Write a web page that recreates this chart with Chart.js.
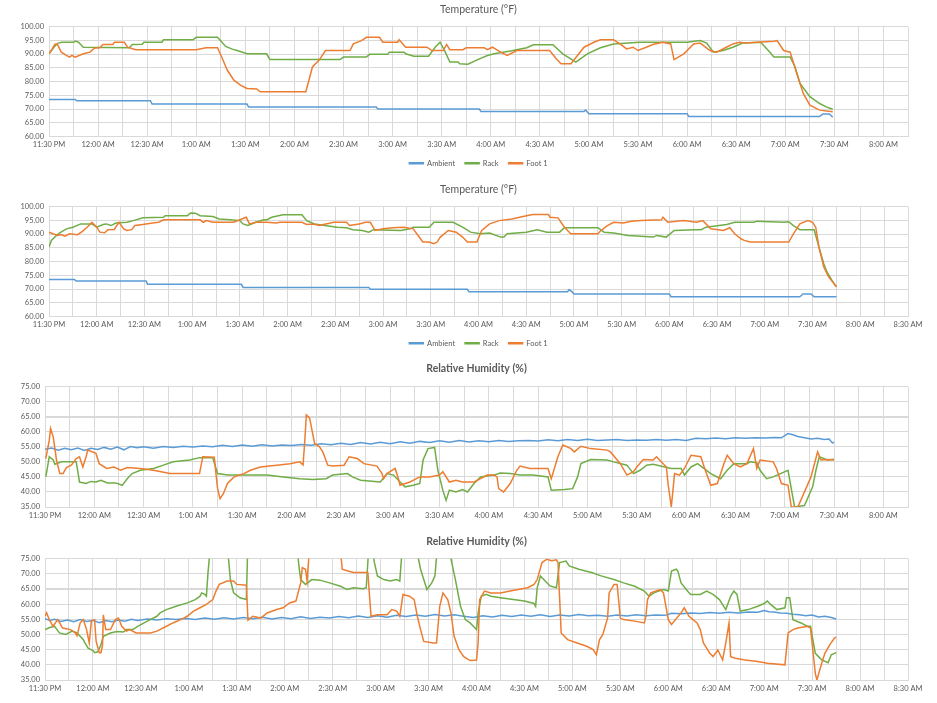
<!DOCTYPE html>
<html>
<head>
<meta charset="utf-8">
<script src="https://cdn.jsdelivr.net/npm/chart.js@4.4.1/dist/chart.umd.min.js"></script>
<style>
  body { margin: 0; background: #fff; width: 937px; height: 703px; overflow: hidden; position: relative; }
  canvas { position: absolute; left: 0; }
</style>
</head>
<body>
<canvas id="tempChart1" width="937" height="180" style="top:0px"></canvas>
<canvas id="tempChart2" width="937" height="180" style="top:180px"></canvas>
<canvas id="humChart1" width="937" height="170" style="top:360px"></canvas>
<canvas id="humChart2" width="937" height="173" style="top:530px"></canvas>
<script>
// x = minutes after 11:30 PM, y = reading
const seriesNames = ["Ambient", "Rack", "Foot 1"];
const seriesColors = ["#5B9BD5", "#70AD47", "#ED7D31"];

const t1Ambient = [[0,73.5],[16,73.5],[17,73.0],[62,73.0],[63,71.8],[121,71.8],[122,70.7],[200,70.7],[201,70.0],[263,70.0],[264,69.1],[327,69.1],[328,69.6],[329,68.9],[330,68.3],[390,68.3],[391,67.3],[471,67.3],[473,68.2],[477,68.2],[479,67.0]];
const t1Rack = [[0,90.1],[3,92.5],[5.5,94],[8,94.3],[15,94.3],[16,94.7],[18,94.3],[21,92.5],[49,92.3],[51,93.5],[57,93.6],[58,94.3],[69,94.3],[70,95.2],[88,95.2],[90,96.1],[103,96.1],[108,92.8],[112,91.8],[115,91.3],[121,90.1],[133,90.1],[135,88.0],[178,88.0],[180,88.9],[194,88.9],[196,89.9],[207,89.9],[208,90.7],[217,90.7],[218,90.1],[223,89.2],[232,89.2],[236,92.5],[239,94.3],[242,91],[245,87.1],[250,87.1],[251,86.5],[256,86.3],[262,88],[268,89.5],[272,90.1],[282,91.1],[292,92.3],[296,93.4],[308,93.4],[314,90.1],[322,87.1],[329,90.1],[337,92.3],[345,93.7],[361,94.3],[390,94.3],[398,94.9],[402,94],[406,90.7],[412,91.3],[418,92.5],[424,94],[435,94.3],[441,90.4],[443,88.9],[453,88.9],[456,85.3],[459,79.3],[465,74.5],[471,72],[475,70.8],[479,69.9]];
const t1Foot = [[0,90.1],[2,92],[3.5,93.5],[5,93.7],[7.5,90.7],[10.6,89.5],[12.6,88.9],[14,89.5],[16,88.9],[21,90.1],[25,90.7],[28,92.2],[31,92.3],[33,93.5],[39,93.5],[40,94.3],[46,94.3],[48,92.5],[53,91.6],[90,91.6],[96,92.3],[103,92.3],[106,88.3],[109,84.1],[113,80.5],[117,78.7],[121,77.5],[127,77.3],[129,76.3],[157,76.3],[161,85.3],[165,87.7],[169,91.3],[184,91.3],[186,93.7],[191,94.9],[194,96.1],[202,96.1],[204,94.3],[213,94.3],[214,95.2],[218,92.5],[231,92.5],[234,91.3],[241,91.3],[243,93.5],[245,91.6],[253,91.6],[255,92.3],[266,92.3],[268,91.6],[271,92.5],[276,90.7],[280,89.5],[286,91.3],[306,91.3],[310,88.3],[313,86.5],[319,86.5],[323,89.5],[327,92.5],[333,94.3],[337,95.2],[345,95.2],[349,93.7],[353,91.9],[357,92.5],[360,91.3],[365,92.5],[369,93.5],[375,94.3],[380,93.7],[382,88],[388,90.1],[394,93.7],[398,94],[404,91.3],[408,90.7],[414,92.5],[418,93.7],[422,94.3],[426,94],[433,94.3],[443,94.7],[445,94.9],[449,91.3],[453,90.7],[457,82.9],[461,75.7],[465,71.4],[471,69.6],[479,69]];

const t2Ambient = [[0,73.5],[16,73.5],[17,72.9],[61,72.9],[62,71.7],[121,71.7],[122,70.6],[201,70.6],[202,69.9],[263,69.9],[264,69.0],[326,69.0],[327,69.8],[329,68.9],[330,68.2],[390,68.2],[391,67.2],[472,67.2],[474,68.2],[479,68.2],[481,67.2],[495,67.2]];
const t2Rack = [[0,85.3],[1.5,87.7],[4.6,89.5],[7,90.5],[11,91.9],[15,92.5],[20,93.7],[27,93.7],[30,92.5],[34,93.5],[36,93.7],[39,93.1],[42,94],[49,94.3],[53,94.9],[59,95.9],[72,96.1],[73,96.7],[87,96.7],[89,97.7],[92,97.6],[95,96.7],[103,96.4],[107,95.5],[114,95.2],[120,94.9],[122,93.7],[125,93.1],[130,94.3],[135,95.2],[137,95.2],[140,96.1],[147,97],[159,97],[162,94.9],[167,93.7],[181,92.5],[187,92.3],[191,91.6],[197,91.3],[201,90.7],[204,91.6],[221,91.3],[227,91.9],[229,92.5],[239,92.5],[242,94.3],[254,94.3],[260,92.5],[265,90.7],[271,90.1],[277,90.4],[284,88.9],[286,88.9],[288,90.1],[300,90.7],[307,91.6],[313,90.7],[321,90.7],[324,92.3],[345,92.3],[349,90.7],[355,90.4],[364,89.5],[372,89.2],[380,88.9],[382,89.5],[388,88.9],[393,91.3],[406,91.6],[410,91.6],[413,92.5],[426,93.5],[431,94.3],[443,94.3],[445,94.7],[462,94.3],[465,94.5],[468,93.1],[472,91.6],[481,91.6],[484,85.3],[487,79.3],[489,76.3],[492,73.3],[495,70.8]];
const t2Foot = [[0,90.7],[2.5,90.1],[5.5,89.5],[7.5,89.8],[10,89.2],[13,90.1],[18,89.8],[21,91],[24,92.5],[27,94.3],[30,92.5],[32,90.7],[35,90.5],[37,91.6],[41,91.7],[44,94.3],[47,91.9],[49,91.3],[52,91.6],[54,93.1],[59,93.5],[65,94],[69,94.3],[72,95.2],[95,95.2],[97,94.3],[99,94.9],[103,94.3],[116,94.3],[120,95.2],[124,96.1],[126,93.7],[130,94.3],[137,94.3],[143,94],[145,94.3],[159,94.3],[162,93.5],[166,93.7],[170,93.1],[174,93.7],[179,94.3],[187,94.3],[189,93.1],[195,93.7],[199,94.3],[202,94.3],[205,91.3],[210,91.9],[216,92.3],[223,92.5],[229,91.9],[232,89.5],[235,87.1],[239,87.1],[242,86.5],[244,87.1],[246,88.9],[251,91.3],[256,90.7],[260,88.9],[263,87.1],[269,87.1],[272,91.3],[277,93.7],[283,94.9],[291,95.5],[298,96.4],[304,97.1],[314,97.1],[315,96.1],[320,95.9],[324,92.5],[328,90.1],[345,90.1],[347,91.3],[351,93.1],[355,94.3],[361,94],[366,94.7],[372,94.9],[385,95.2],[386,96.1],[389,94.3],[399,94.9],[407,94.3],[411,94.9],[416,91.9],[424,91.3],[428,92.3],[431,90.1],[435,88.3],[437,87.7],[441,87.1],[465,87.1],[468,90.1],[472,93.7],[477,94.9],[480,94.3],[482,92.5],[484,85.3],[487,78.1],[490,74.5],[495,70.8]];

const h1Ambient = [[0,54.2],[4,54.6],[8,53.9],[12,54.5],[16,54.0],[20,54.6],[24,53.8],[28,54.5],[32,54.1],[36,54.8],[40,54.2],[44,54.9],[48,54.0],[52,55.1],[56,54.7],[60,55.0],[66,54.5],[72,55.1],[78,54.8],[84,55.2],[90,54.9],[96,55.3],[102,55.0],[108,55.5],[114,55.1],[120,55.6],[126,55.2],[132,55.7],[138,55.3],[144,55.6],[150,55.4],[156,55.8],[162,55.5],[168,56.0],[174,55.7],[180,56.2],[186,55.8],[192,56.4],[198,55.9],[204,56.5],[210,56.0],[216,56.7],[222,56.2],[228,56.8],[234,56.4],[240,57.0],[246,56.5],[252,57.1],[258,56.6],[264,57.0],[270,56.7],[276,57.1],[282,56.8],[288,57.0],[294,57.1],[300,56.9],[306,57.3],[312,57.0],[318,57.4],[324,57.1],[330,57.5],[336,57.1],[342,57.3],[348,57.4],[354,57.1],[360,57.3],[366,57.2],[372,57.4],[378,57.2],[384,57.4],[390,57.1],[396,57.8],[402,57.7],[408,57.9],[414,57.7],[420,58.0],[426,57.8],[432,58.0],[438,57.9],[444,58.1],[448,58.0],[452,59.4],[455,59.0],[458,58.4],[462,58.0],[466,57.6],[470,57.8],[474,57.4],[477,57.6],[479,56.3],[480,56.5]];
const h1Rack = [[0.5,45],[2.6,51.7],[5,50.6],[6,49.2],[10,50],[19,50],[21,43.3],[25,42.8],[28,43.5],[31,43.3],[34,43.9],[38,43],[43,43],[47,42.2],[50,44.4],[53,46.1],[58,47.2],[66,47.8],[72,48.9],[78,50],[88,50.6],[94,51.4],[102,51.4],[105,46.1],[111,45.6],[135,45.6],[145,45],[155,44.4],[163,44.1],[171,44.4],[175,45.6],[184,46.1],[187,45],[192,43.9],[204,43.3],[208,46.1],[212,45.6],[216,43.3],[219,41.7],[224,42.2],[228,42.8],[230,50.6],[233,54.4],[237,54.8],[239,47.2],[242,40.6],[244,37.2],[246,40.6],[250,40],[254,40.8],[257,40],[261,42.8],[265,45],[273,45.6],[277,46.3],[283,46.1],[289,45.6],[297,45.6],[306,45],[308,40.6],[316,40.8],[321,41.1],[324,45],[326,49.4],[332,50.8],[342,50.6],[346,50],[354,48.9],[358,46.1],[362,47.2],[366,48.9],[370,49.2],[377,48.3],[381,47.8],[387,47.8],[389,45.6],[393,48.3],[397,49.4],[405,46.1],[411,44.4],[415,47.2],[419,49.4],[427,49.4],[429,50],[433,49.7],[435,47.2],[439,44.4],[443,45],[452,47.2],[456,35],[462,35.5],[467,41.7],[469,47.2],[471,51.7],[476,50.6],[480,50.9]];
const h1Foot = [[0.5,51.1],[2.6,57.2],[3.4,61.1],[5,58.3],[7,50.6],[9,46.1],[11,46.1],[13,48.1],[16,48.9],[19,51.1],[21,51.7],[23,48.3],[25,51.7],[26,53.9],[31,52.8],[33,49.4],[37.5,47.8],[42,48.3],[46,47.2],[50,48.1],[58,47.8],[66,47.2],[76,46.1],[94,46.1],[96,51.7],[103,51.5],[104,46.1],[105,41.1],[106.5,37.8],[108.5,39.4],[111,42.8],[115,45],[121,46.1],[125,47.2],[131,48.3],[141,48.9],[149,49.4],[155,50],[157,49],[158,56.7],[159,65.6],[161,64.5],[164,56.1],[167,55],[169,53.3],[172,48.9],[175,48.6],[182,48.9],[185,51.7],[190,51.1],[194,49.4],[202,48.6],[205,46.1],[206,44.4],[208,46.1],[213,47.8],[215,44.4],[216,42.2],[222,43.3],[228,45],[234,45],[240,45.6],[242,46.7],[246,43.3],[250,43.9],[254,43.3],[261,43.3],[265,44.4],[269,45.6],[273,45.6],[275,45],[276,41.1],[279,40],[283,42.8],[287,47.2],[289,48.6],[295,47.8],[306,47.8],[308,44.4],[312,51.7],[315,55.6],[320,54.4],[322,53.3],[326,55.2],[332,54.4],[342,53.9],[344,53.3],[350,49.4],[354,45.6],[358,46.7],[360,48.3],[364,50.8],[370,50.6],[372,51.7],[378,48.3],[379,42.8],[381,35],[383,46.1],[386,45.6],[389,47.8],[393,52.2],[399,51.7],[401,48.3],[405,42.2],[409,42.8],[413,49.4],[415,52.2],[419,49.4],[423,48.3],[427,49.4],[431,54.4],[433,47.8],[435,50.6],[443,50],[445,47.8],[448,42.8],[452,42.2],[454,35],[458,35],[466,45],[470,53.3],[472,50.6],[477,50.8],[480,50.6]];

const h2Ambient = [[0,55.2],[3,54.6],[6,55.0],[10,54.3],[14,54.8],[18,54.2],[22,54.9],[26,54.3],[30,54.7],[34,53.9],[38,54.6],[42,54.2],[46,54.8],[50,54.4],[54,55.0],[58,54.6],[64,55.1],[70,54.8],[76,55.2],[82,54.9],[88,55.3],[94,54.9],[100,55.4],[106,55.0],[112,55.5],[118,55.1],[124,55.6],[130,55.2],[136,55.7],[142,55.1],[148,55.6],[154,55.2],[160,55.8],[166,55.3],[172,55.7],[178,55.4],[184,55.9],[190,55.5],[196,56.1],[202,55.6],[208,56.2],[214,55.7],[220,56.3],[226,55.9],[232,56.4],[238,56.0],[244,56.6],[250,56.1],[256,56.5],[262,56.0],[268,55.6],[274,56.2],[280,55.8],[286,56.3],[292,55.9],[298,56.4],[304,56.0],[310,56.5],[316,55.9],[322,56.4],[328,56.1],[334,56.6],[340,56.2],[346,56.3],[352,56.0],[358,56.4],[364,56.1],[370,56.5],[376,56.2],[382,56.4],[388,56.3],[392,57.0],[398,56.8],[404,57.1],[410,56.9],[416,57.2],[422,57.0],[428,57.3],[434,57.1],[440,57.4],[446,57.3],[450,57.9],[453,57.5],[456,57.4],[460,57.1],[464,57.0],[468,56.7],[472,56.5],[476,56.2],[480,56.4],[484,55.8],[488,56.0],[492,55.6],[495,55.1]];
const h2Rack = [[0,51.6],[3,52.3],[6,52.7],[9,50.5],[13,50],[17,51.1],[20,50.5],[24,48.3],[25,47.2],[27,45.5],[30,44.7],[31,44],[33,44.3],[35,46.6],[36.5,49.4],[41,50.5],[45,51],[49,50.8],[51,51.6],[55,51.6],[58,52.7],[64,54.4],[70,56],[72,57.1],[76,58.2],[82,59.3],[89,60.4],[94,61.5],[97,62.6],[98,63.7],[100,63.2],[101,62.6],[102,70.4],[104,82],[113,82],[115,74],[116,68.1],[118,63.7],[122,62.1],[126,61.5],[127,82],[157,82],[159,72],[160,68.1],[163,66.5],[167,68.1],[172,67.9],[178,67],[185,65.9],[189,64.8],[193,65.4],[199,65.1],[201,65.4],[203,82],[204,82],[206,74],[208,69.3],[212,68.1],[216,67.6],[220,68.1],[222,67.6],[224,82],[231,82],[235,71.5],[237,68.1],[239,64.8],[242,67],[244,69.3],[246,82],[253,82],[254,75],[257,67.5],[260,59.3],[263,54.9],[266,53.8],[268,52.7],[270,51.6],[271,57],[273,62.6],[276,63.2],[279,62.6],[285,62.1],[293,61.5],[300,61],[306,60.2],[307,59.3],[308,65.4],[310,69.3],[313,67.6],[316,66],[320,65.4],[322,73.7],[326,74.2],[328,72.6],[334,71.5],[342,70.4],[348,69.3],[356,68.1],[362,67],[369,65.9],[375,64.3],[378,62.6],[381,63.7],[384,64.3],[387,64.8],[390,64.3],[392,70.9],[395,71.5],[396,70.9],[398,67],[402,64.3],[404,63.2],[410,63.2],[414,64.3],[418,63.2],[422,61.5],[426,58.2],[429,62.6],[431,64.3],[433,63.2],[435,57.7],[440,58.2],[446,59.3],[450,60.2],[452,61],[454,59.9],[458,58.2],[463,58.8],[464,62.1],[466,62.1],[468,54.9],[473,53.8],[477,52.7],[479,52.7],[482,43.8],[484,42.7],[486,41.6],[490,40.7],[492,43.3],[495,44]];
const h2Foot = [[0,56],[1,57.1],[2.7,54.9],[5,52.7],[8,54.9],[11,52.1],[16,51.6],[19,50.5],[20,49.6],[21,51.6],[22,53.8],[24,54.9],[26,51.6],[27.7,47.2],[29,54.4],[31,54.9],[32,47.7],[34,44],[35,44],[36,46.6],[36.5,56.5],[38,51.6],[41,51.6],[44,54.9],[46,55.4],[48,52.7],[51,51.1],[53,51.6],[57,50.5],[66,50.5],[70,51.1],[76,52.7],[80,53.8],[85,54.9],[89,56],[93,57.7],[97,58.8],[101,59.9],[105,61.5],[107,64.3],[109,66.5],[114,67.6],[118,67.6],[120,66.5],[126,66.2],[127,54.7],[130,56],[135,55.4],[139,57.1],[145,58.2],[149,58.8],[153,60.4],[157,61],[160,67],[161,72],[163,71.5],[164,67.6],[166,82],[184,82],[186,71.5],[189,71],[193,70.4],[202,70.4],[204,56],[208,56.5],[214,56.5],[217,58.2],[220,57.7],[222,56],[224,63.2],[228,62.6],[231,61.5],[233,56],[235,51.6],[237,47.7],[243,47.2],[245,47.2],[247,59.3],[249,63.7],[252,61.5],[254,57.1],[256,49.4],[259,45],[262,42.7],[266,41.4],[270,41.6],[271,47.2],[272,61.5],[275,64.3],[279,63.7],[285,63.7],[291,64.3],[302,65.4],[306,66.5],[308,68.1],[311,73.7],[314,74.8],[317,74.3],[320,74.6],[321,73.7],[323,50.5],[327,48.3],[333,47.2],[339,46.1],[343,45],[345,43.3],[347,48.3],[349,49.9],[352,55.4],[353,63.7],[356,66.5],[358,66.5],[360,55.4],[362,54.9],[369,54.4],[375,53.8],[376,56],[377,61.5],[379,63.7],[385,64.8],[387,63.7],[390,54.9],[392,53.3],[398,57.1],[400,58.8],[403,56],[408,53.8],[410,51.6],[412,47.2],[416,43.8],[418,42.7],[421,44.9],[424,41.6],[426,47.2],[428,53.8],[429,42.7],[432,42.2],[438,41.6],[446,41.1],[452,40.5],[463,40],[465,50.5],[468,51.6],[471,52.1],[477,52.7],[479,52.1],[482,37.2],[483,35],[486,40.5],[488,43.8],[491,46.6],[494,48.8],[495,49.1]];

const tempTicks = [60, 100];
const humTicks = [35, 75];

Chart.defaults.font.family = "Lato, 'Liberation Sans', sans-serif";
Chart.defaults.color = "#595959";

function timeLabel(m) {
  const tot = (23 * 60 + 30 + m) % 1440;
  let h = Math.floor(tot / 60);
  const mm = tot % 60;
  const ap = h >= 12 ? "PM" : "AM";
  h = h % 12;
  if (h === 0) h = 12;
  return h + ":" + String(mm).padStart(2, "0") + " " + ap;
}

function makeChart(id, title, bold, data, yRange, xMax, legend, axisWidth, padTop, titlePad, padBottom, axisHeight) {
  const ctx = document.getElementById(id);
  return new Chart(ctx, {
    type: "line",
    data: {
      datasets: data.map((arr, i) => ({
        label: seriesNames[i],
        data: arr.map((p) => ({ x: p[0], y: p[1] })),
        borderColor: seriesColors[i],
        backgroundColor: seriesColors[i],
        borderWidth: 1.5,
        pointRadius: 0,
        tension: 0,
        order: 3 - i,
      })),
    },
    options: {
      responsive: false,
      animation: false,
      layout: {
        padding: { left: 0, right: 29, top: padTop, bottom: padBottom },
      },
      plugins: {
        tooltip: { enabled: false },
        title: {
          display: true,
          fullSize: false,
          text: title,
          color: "#595959",
          font: { size: 10.5, weight: bold ? "bold" : "normal" },
          padding: { top: 0, bottom: titlePad },
        },
        legend: {
          display: legend,
          fullSize: false,
          position: "bottom",
          labels: {
            boxWidth: 14,
            boxHeight: 1,
            font: { size: 7.5 },
            color: "#595959",
            padding: 10,
            sort: (a, b) => a.datasetIndex - b.datasetIndex,
          },
        },
      },
      scales: {
        x: {
          type: "linear",
          min: 0,
          max: xMax,
          afterFit: (s) => { s.height = axisHeight; },
          ticks: {
            stepSize: 15,
            autoSkip: false,
            maxRotation: 0,
            padding: 4,
            font: { size: 7.5 },
            color: "#595959",
            callback: (v) => (v % 30 === 0 ? timeLabel(v) : ""),
          },
          grid: { color: "#D9D9D9", drawTicks: false },
          border: { color: "#D9D9D9" },
        },
        y: {
          min: yRange[0],
          max: yRange[1],
          afterFit: (s) => { s.width = axisWidth; },
          ticks: {
            stepSize: 5,
            padding: 5,
            font: { size: 7.5 },
            color: "#595959",
            callback: (v) => v.toFixed(2),
          },
          grid: {
            color: "#D9D9D9",
            drawTicks: false,
            lineWidth: (c) => (bold && c.tick && c.tick.value === 65 ? 2 : 1),
          },
          border: { display: false },
        },
      },
    },
  });
}

const tempChart1 = makeChart("tempChart1", "Temperature (°F)", false, [t1Ambient, t1Rack, t1Foot], tempTicks, 525, true, 49, 3, 11, 3, 13);
const tempChart2 = makeChart("tempChart2", "Temperature (°F)", false, [t2Ambient, t2Rack, t2Foot], tempTicks, 540, true, 49, 3, 11, 3, 13);
const humChart1 = makeChart("humChart1", "Relative Humidity (%)", true, [h1Ambient, h1Rack, h1Foot], humTicks, 525, false, 45, 2, 12, 7, 16);
const humChart2 = makeChart("humChart2", "Relative Humidity (%)", true, [h2Ambient, h2Rack, h2Foot], humTicks, 540, false, 45, 5, 11, 7, 16);
</script>
</body>
</html>
